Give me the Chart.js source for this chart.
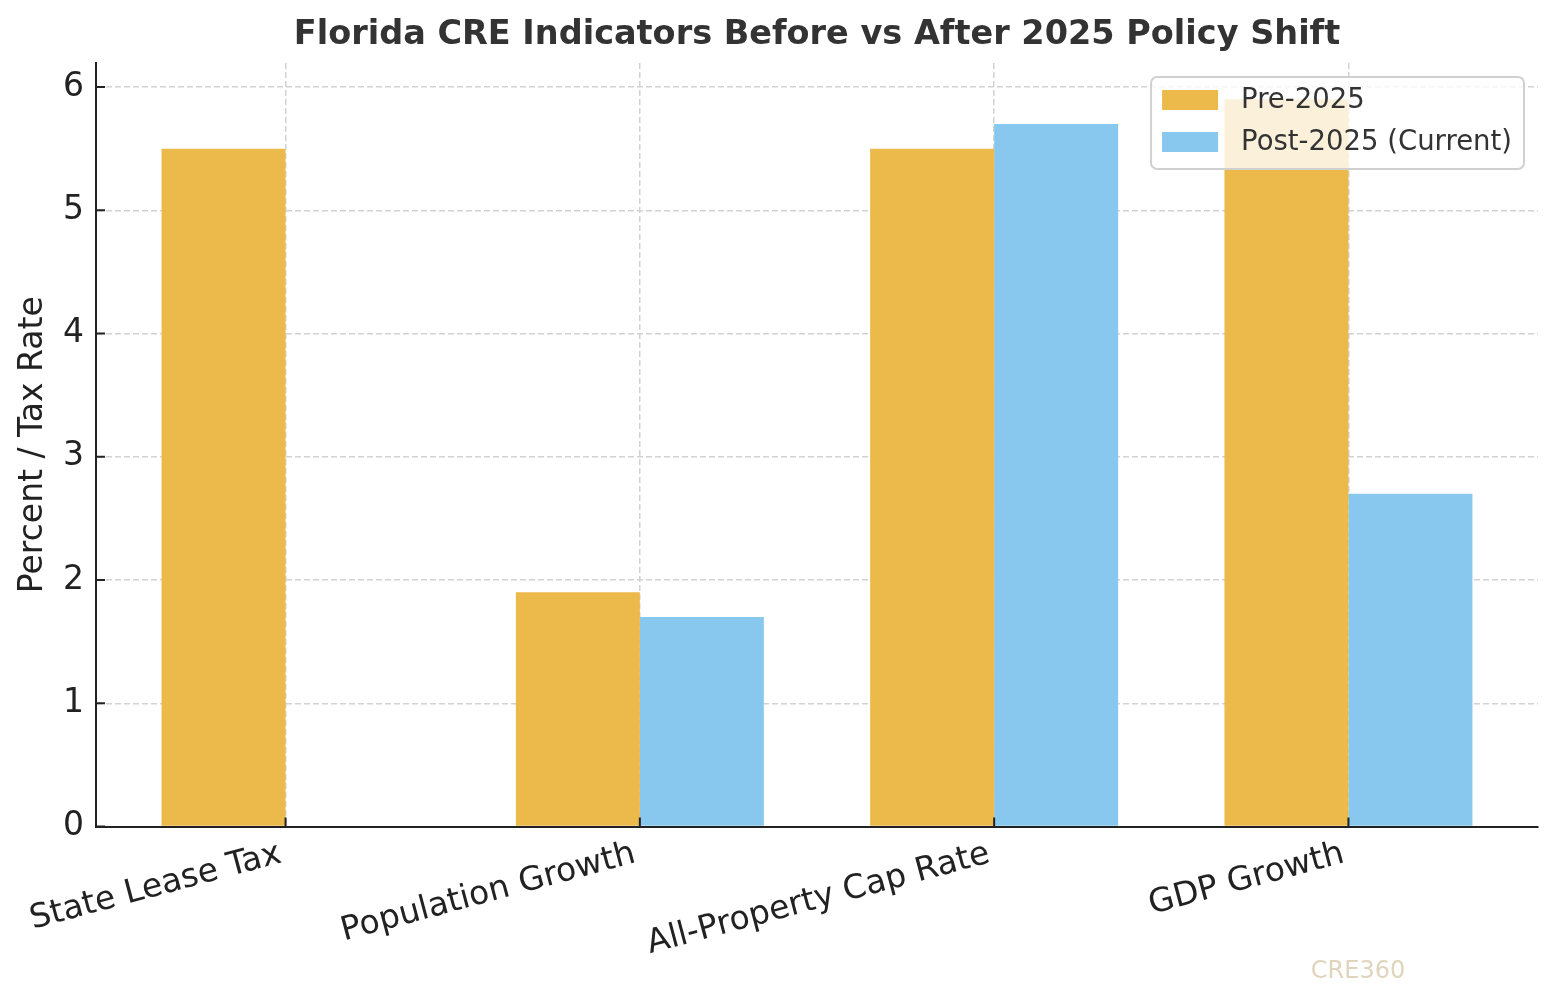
<!DOCTYPE html>
<html>
<head>
<meta charset="utf-8">
<script src="https://cdn.jsdelivr.net/npm/chart.js@4.4.1/dist/chart.umd.min.js"></script>
<style>
  html, body { margin: 0; padding: 0; background: #ffffff; }
  #wrap { width: 1557px; height: 1005px; position: relative; }
</style>
</head>
<body>
<div id="wrap"><canvas id="c" width="1557" height="1005"></canvas></div>
<script>
// ---- data ----
const categories = ["State Lease Tax", "Population Growth", "All-Property Cap Rate", "GDP Growth"];
const preLabel = "Pre-2025";
const postLabel = "Post-2025 (Current)";
const preValues = [5.5, 1.9, 5.5, 5.9];
const postValues = [0, 1.7, 5.7, 2.7];
const yTicks = [0, 1, 2, 3, 4, 5, 6];
const titleText = "Florida CRE Indicators Before vs After 2025 Policy Shift";
const yAxisTitle = "Percent / Tax Rate";
const watermarkText = "CRE360";

// ---- styles ----
const FONT = "'DejaVu Sans', 'Liberation Sans', sans-serif";
const ORANGE = "#ecb94b";
const BLUE = "#89c8ee";
const GRID = "#d2d2d2";
const AXIS = "#222222";

const titlePlugin = {
  id: 'titlePlugin',
  afterDraw(chart) {
    const {ctx, chartArea} = chart;
    ctx.save();
    ctx.font = "bold 33.5px " + FONT;
    ctx.fillStyle = "#333333";
    ctx.textAlign = "center";
    ctx.textBaseline = "middle";
    ctx.fillText(titleText, (chartArea.left + chartArea.right) / 2, 35);
    ctx.font = "24px " + FONT;
    ctx.fillStyle = "#e0d4bd";
    ctx.fillText(watermarkText, 1358, 972);
    ctx.restore();
  }
};

const tickPlugin = {
  id: 'tickPlugin',
  afterDatasetsDraw(chart) {
    const {ctx, chartArea, scales} = chart;
    ctx.save();
    ctx.strokeStyle = AXIS;
    ctx.lineWidth = 2;
    ctx.beginPath();
    scales.x.ticks.forEach((t, i) => {
      const px = scales.x.getPixelForTick(i);
      ctx.moveTo(px, chartArea.bottom);
      ctx.lineTo(px, chartArea.bottom - 9);
    });
    scales.y.ticks.forEach((t, i) => {
      const py = scales.y.getPixelForTick(i);
      ctx.moveTo(chartArea.left, py);
      ctx.lineTo(chartArea.left + 9, py);
    });
    ctx.stroke();
    ctx.restore();
  }
};

const legendPlugin = {
  id: 'legendPlugin',
  afterDraw(chart) {
    const {ctx, chartArea} = chart;
    const ds = chart.data.datasets;
    ctx.save();
    ctx.font = "27.5px " + FONT;
    let maxW = 0;
    ds.forEach(d => { maxW = Math.max(maxW, ctx.measureText(d.label).width); });
    const padL = 11, swW = 56, swH = 20, gap = 23, padR = 12, rowH = 42;
    const w = padL + swW + gap + maxW + padR;
    const h = 92;
    const x0 = chartArea.right - 14 - w;
    const y0 = chartArea.top + 14;
    ctx.beginPath();
    ctx.roundRect(x0, y0, w, h, 6);
    ctx.fillStyle = "rgba(255,255,255,0.8)";
    ctx.fill();
    ctx.strokeStyle = "#d0d0d0";
    ctx.lineWidth = 2;
    ctx.stroke();
    ds.forEach((d, i) => {
      const cy = y0 + 23 + i * rowH;
      ctx.fillStyle = d.backgroundColor;
      ctx.fillRect(x0 + padL, cy - swH / 2, swW, swH);
      ctx.fillStyle = "#333333";
      ctx.textAlign = "left";
      ctx.textBaseline = "middle";
      ctx.fillText(d.label, x0 + padL + swW + gap, cy + 1);
    });
    ctx.restore();
  }
};

new Chart(document.getElementById('c'), {
  type: 'bar',
  data: {
    datasets: [
      {
        label: preLabel,
        data: preValues.map((v, i) => ({x: i, y: v})),
        backgroundColor: ORANGE,
        borderWidth: 0
      },
      {
        label: postLabel,
        data: postValues.map((v, i) => ({x: i, y: v})),
        backgroundColor: BLUE,
        borderWidth: 0
      }
    ]
  },
  options: {
    responsive: false,
    devicePixelRatio: 1,
    animation: false,
    categoryPercentage: 0.7,
    barPercentage: 1.0,
    layout: { padding: { top: 63, right: 19, bottom: 0, left: 0 } },
    plugins: {
      legend: { display: false },
      title: { display: false },
      tooltip: { enabled: false }
    },
    scales: {
      x: {
        type: 'linear',
        offset: false,
        min: -0.535,
        max: 3.535,
        afterBuildTicks: (scale) => { scale.ticks = categories.map((c, i) => ({value: i})); },
        afterFit: (scale) => { scale.height = 1005 - 826.5; },
        grid: { display: true, color: GRID, lineWidth: 1.5, drawTicks: false, offset: false },
        border: { display: true, color: AXIS, width: 2, dash: [6, 3], z: 1 },
        ticks: {
          autoSkip: false,
          minRotation: 15,
          maxRotation: 15,
          padding: 8,
          labelOffset: -5,
          color: "#222222",
          font: { family: FONT, size: 33 },
          callback: (v) => categories[v]
        }
      },
      y: {
        min: 0,
        max: 6.195,
        afterFit: (scale) => { scale.width = 96; },
        afterBuildTicks: (scale) => { scale.ticks = yTicks.map(v => ({value: v})); },
        grid: { display: true, color: GRID, lineWidth: 1.5, drawTicks: false },
        border: { display: true, color: AXIS, width: 2, dash: [6, 3], z: 1 },
        ticks: {
          padding: 12,
          color: "#222222",
          font: { family: FONT, size: 33 },
          callback: (v) => String(v)
        },
        title: {
          display: true,
          text: yAxisTitle,
          color: "#222222",
          font: { family: FONT, size: 33 },
          padding: { top: 14, bottom: 0 }
        }
      }
    }
  },
  plugins: [titlePlugin, tickPlugin, legendPlugin]
});
</script>
</body>
</html>
